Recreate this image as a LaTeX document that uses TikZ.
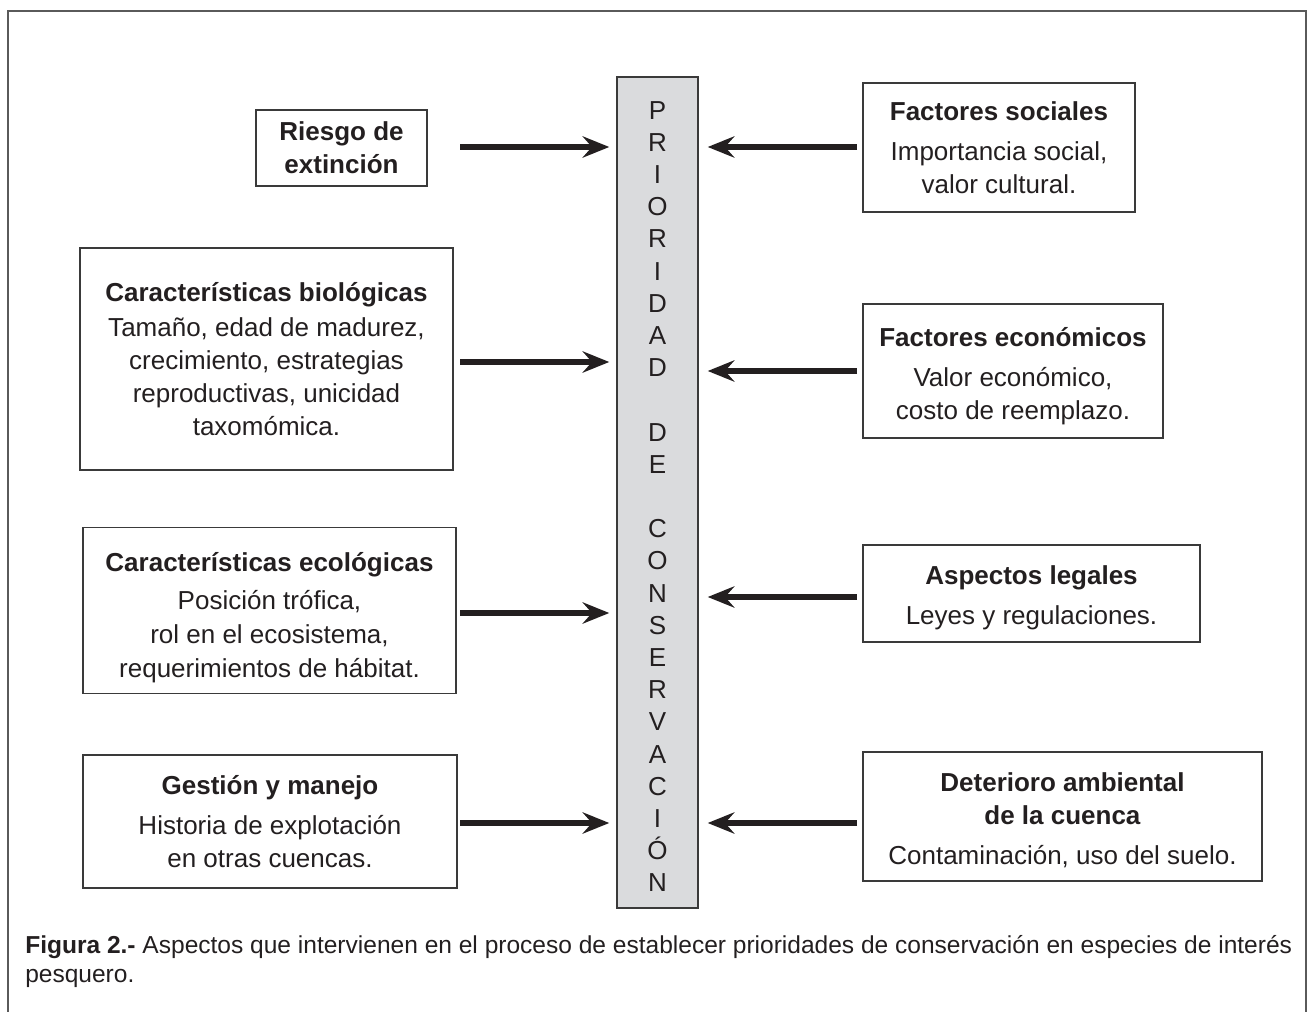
\documentclass[tikz,border=0pt]{standalone}
\usepackage{fontspec}
\setmainfont{Liberation Sans}
\usetikzlibrary{arrows.meta}
\definecolor{ink}{HTML}{231F20}
\definecolor{boxline}{HTML}{3A3A3A}
\definecolor{barfill}{HTML}{DADBDD}
\definecolor{framegray}{HTML}{5A5A5A}
\newcommand{\liftstrut}[1]{\rule{0pt}{#1}}
\begin{document}
\begin{tikzpicture}[x=0.75pt,y=-0.75pt,
  box/.style={draw=boxline, line width=1.1pt, align=center, inner sep=0pt, text=ink,
              font=\fontsize{19.5}{24.75}\selectfont},
  arr/.style={draw=ink, line width=4pt, -{Stealth[length=20pt,width=16pt,inset=7pt]}},
  larr/.style={arr, shorten >=5.25pt},
  rarr/.style={arr, shorten >=6.75pt},
]
\useasboundingbox (0,0) rectangle (1309,1012);
\draw[framegray, line width=1.5pt] (8,1016) -- (8,11) -- (1306,11) -- (1306,1016);

% central bar
\node[draw=boxline, fill=barfill, line width=1.1pt, minimum width=60.75pt, minimum height=623.25pt,
      inner sep=0pt] (bar) at (657.5,492.5) {};
\node[align=center, inner sep=0pt, text=ink, font=\fontsize{19.5}{24.15}\selectfont]
  (bartext) at (657.5,496.5)
  {P\\R\\I\\O\\R\\I\\D\\A\\D\\\mbox{}\\D\\E\\\mbox{}\\C\\O\\N\\S\\E\\R\\V\\A\\C\\I\\Ó\\N};

% left boxes
\node[box, minimum width=128.25pt, minimum height=57pt] (riesgo) at (341.5,148)
  {\textbf{Riesgo de}\\\textbf{extinción}};
\node[box, minimum width=279.75pt, minimum height=166.5pt] (bio) at (266.5,359)
  {\textbf{Características biológicas}\\[1pt]Tamaño, edad de madurez,\\crecimiento, estrategias\\reproductivas, unicidad\\taxomómica.};
\node[box, minimum width=279.75pt, minimum height=124.5pt,
      font=\fontsize{19.5}{25.6}\selectfont] (eco) at (269.5,610.5)
  {\liftstrut{25pt}\textbf{Características ecológicas}\\[3pt]Posición trófica,\\rol en el ecosistema,\\requerimientos de hábitat.};
\node[box, minimum width=280.5pt, minimum height=99.75pt] (gest) at (270,821.5)
  {\textbf{Gestión y manejo}\\[5.25pt]Historia de explotación\\en otras cuencas.};

% right boxes
\node[box, minimum width=204pt, minimum height=96.75pt] (soc) at (999,147.5)
  {\textbf{Factores sociales}\\[5.25pt]Importancia social,\\valor cultural.};
\node[box, minimum width=225pt, minimum height=100.5pt] (econ) at (1013,371)
  {\liftstrut{22pt}\textbf{Factores económicos}\\[5.25pt]Valor económico,\\costo de reemplazo.};
\node[box, minimum width=252.75pt, minimum height=72.75pt] (legal) at (1031.5,593.5)
  {\liftstrut{20pt}\textbf{Aspectos legales}\\[5.25pt]Leyes y regulaciones.};
\node[box, minimum width=299.25pt, minimum height=96.75pt] (det) at (1062.5,816.5)
  {\liftstrut{19pt}\textbf{Deterioro ambiental}\\\textbf{de la cuenca}\\[5.25pt]Contaminación, uso del suelo.};

% arrow start points
\coordinate (l1) at (460,147);
\coordinate (l2) at (460,362);
\coordinate (l3) at (460,613);
\coordinate (l4) at (460,823);
\coordinate (r1) at (857,147);
\coordinate (r2) at (857,371);
\coordinate (r3) at (857,597);
\coordinate (r4) at (857,823);

\draw[larr] (l1) -- (l1 -| bar.west);
\draw[larr] (l2) -- (l2 -| bar.west);
\draw[larr] (l3) -- (l3 -| bar.west);
\draw[larr] (l4) -- (l4 -| bar.west);
\draw[rarr] (r1) -- (r1 -| bar.east);
\draw[rarr] (r2) -- (r2 -| bar.east);
\draw[rarr] (r3) -- (r3 -| bar.east);
\draw[rarr] (r4) -- (r4 -| bar.east);

% caption
\node[anchor=north west, align=left, inner sep=0pt, text=ink,
      font=\fontsize{18.4}{21.75}\selectfont] (cap) at (25,935)
  {\textbf{Figura 2.-} Aspectos que intervienen en el proceso de establecer prioridades de conservación en especies de interés\\pesquero.};
\end{tikzpicture}
\end{document}
